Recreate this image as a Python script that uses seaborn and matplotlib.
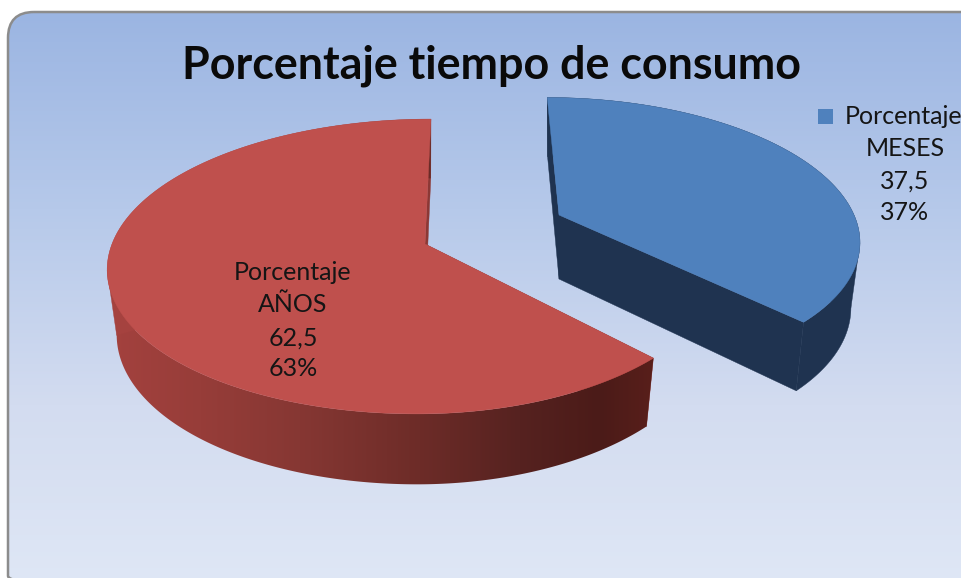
import numpy as np
import matplotlib
matplotlib.use('Agg')
import matplotlib.pyplot as plt
import seaborn as sns
from matplotlib.patches import FancyBboxPatch, Polygon, Rectangle

# datos del grafico
categorias = ['Porcentaje MESES', 'Porcentaje AÑOS']
valores = [37.5, 62.5]
valores_txt = ['37,5', '62,5']
porcentajes = ['37%', '63%']
titulo = 'Porcentaje tiempo de consumo'

sns.set_theme(style='white')
plt.rcParams['font.family'] = ['Lato', 'DejaVu Sans']

fig = plt.figure(figsize=(9.61, 5.78), dpi=100)
ax = fig.add_axes([0, 0, 1, 1])
ax.set_xlim(0, 961)
ax.set_ylim(578, 0)
ax.axis('off')

# fondo degradado con esquinas redondeadas
caja = FancyBboxPatch((8, 12), 990, 590, boxstyle='round,pad=0,rounding_size=26',
                      fc='none', ec='#8c8c8c', lw=1.8, zorder=2)
ax.add_patch(caja)
fondo_col = sns.blend_palette(['#9bb5e2', '#b6c9ea', '#d3dcf0', '#e0e8f6'], n_colors=256)
fondo = np.array(fondo_col).reshape(256, 1, 3)
im = ax.imshow(fondo, extent=(8, 998, 602, 12), aspect='auto', zorder=1)
im.set_clip_path(caja)

# parametros de la perspectiva
k = 0.1525
rx_izq, rx_der = 313, 295
ry = 144
xc = 470
grosor = 64
esc_base = 0.97


def proyecta(theta, cx, cy, fy=1.0, z=0.0, r=1.0):
    # theta en sentido horario desde arriba
    e = 1 - z * (1 - esc_base)
    u = r * np.sin(theta)
    v = -r * np.cos(theta)
    s = 1 / (1 - k * v)
    rx = np.where(u > 0, rx_der, rx_izq)
    x = cx + e * (rx * u * s + (cx - xc) * (s - 1))
    y = cy + e * ry * fy * v * s + z * grosor * s
    return x, y


def porcion(ini, fin, cx, cy, fy, color_top, color_pared, color_corte, grad=None):
    th = np.linspace(ini, fin, 360)
    x0, y0 = proyecta(th, cx, cy, fy)
    x1, y1 = proyecta(th, cx, cy, fy, z=1)
    ac, bc = proyecta(th[0], cx, cy, fy, r=0), proyecta(th[0], cx, cy, fy, z=1, r=0)
    # paredes de los cortes
    for i in (0, -1):
        ax.fill([x0[i], x1[i], bc[0], ac[0]], [y0[i], y1[i], bc[1], ac[1]],
                color=color_corte, lw=0.3, zorder=3)
    # pared exterior
    pared = np.c_[np.r_[x0, x1[::-1]], np.r_[y0, y1[::-1]]]
    # tangente entre la cara superior y la base, en el punto mas lejano
    p, q = np.argmax(np.abs(x0 - cx)), np.argmax(np.abs(x1 - cx))
    tang_x = [x0[p], x1[q], ac[0]]
    tang_y = [y0[p], y1[q], ac[1]]
    if grad is None:
        ax.fill(pared[:, 0], pared[:, 1], color=color_pared, lw=0.3, zorder=3)
        ax.fill(tang_x, tang_y, color=color_pared, lw=0.3, zorder=3)
    else:
        pol = Polygon(pared, closed=True, fc='none', ec='none', zorder=3, transform=ax.transData)
        ax.add_patch(pol)
        xs, cols = grad
        pal = np.array([matplotlib.colors.to_rgb(c) for c in cols])
        xx = np.linspace(xs[0], xs[-1], 400)
        tira = np.stack([np.interp(xx, xs, pal[:, i]) for i in range(3)], axis=1)[None, :, :]
        g = ax.imshow(tira, extent=(xs[0], xs[-1], 600, 0), aspect='auto', zorder=3)
        g.set_clip_path(pol)
        ax.fill(tang_x, tang_y, color=cols[0], lw=0.3, zorder=3)
    # cara superior
    ax.fill(np.r_[ac[0], x0], np.r_[ac[1], y0], color=color_top, lw=0.3, zorder=4)


total = sum(valores)
corte = 2 * np.pi * valores[0] / total

grad_rojo = ([100, 200, 300, 420, 520, 600, 660],
             ['#a5423f', '#973d39', '#863733', '#6d2c28', '#562220', '#4b1b18', '#5a1f1b'])
porcion(corte, 2 * np.pi, 425, 244, 1.0, '#bf504d', None, '#8c3835', grad_rojo)
porcion(0, corte, 559, 215, 0.94, '#4f81bd', '#1f3350', '#1f3350')

ax.set_xlim(0, 961)
ax.set_ylim(578, 0)

# titulo y etiquetas
color_txt = '#151515'
ax.text(491, 66, titulo, ha='center', va='center', fontsize=32.3, fontweight='bold',
        color='#0a0a0a', zorder=5)
ax.add_patch(Rectangle((818, 109), 15, 15, fc='#4f81bd', ec='none', zorder=5))

ax.text(904, 116, 'Porcentaje', ha='center', va='center', fontsize=18, color=color_txt, zorder=5)
for y, txt in zip([148, 181, 213], [categorias[0].split()[1], valores_txt[0], porcentajes[0]]):
    ax.text(905, y, txt, ha='center', va='center', fontsize=18, color=color_txt, zorder=5)
for y, txt in zip([273, 305, 338, 369], ['Porcentaje', categorias[1].split()[1], valores_txt[1], porcentajes[1]]):
    ax.text(293, y, txt, ha='center', va='center', fontsize=18, color=color_txt, zorder=5)

fig.savefig('out.png', dpi=100, facecolor='white')
